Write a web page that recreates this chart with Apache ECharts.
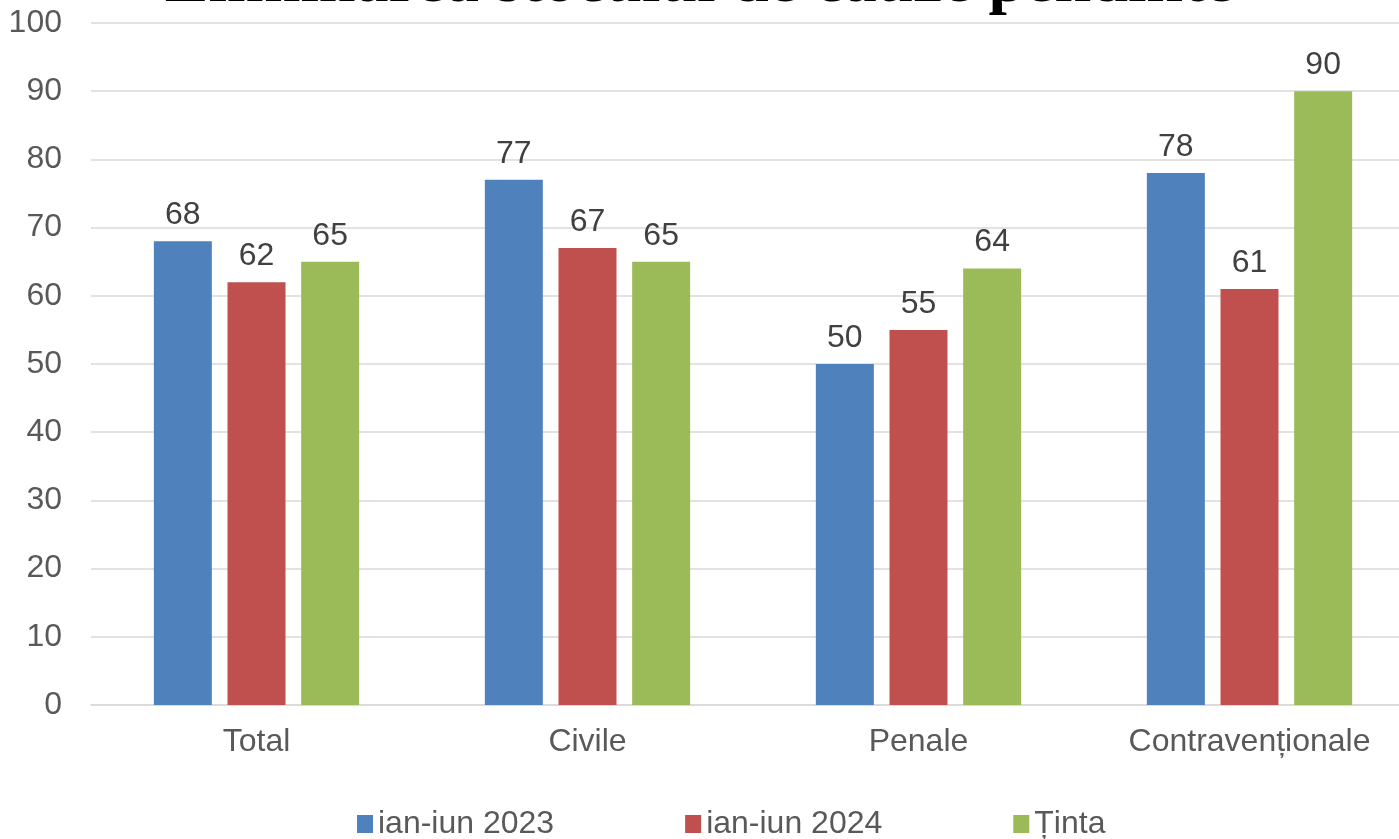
<!DOCTYPE html>
<html>
<head>
<meta charset="utf-8">
<script src="https://cdn.jsdelivr.net/npm/echarts@6/dist/echarts.min.js"></script>
<style>
  html, body { margin: 0; padding: 0; background: #fff; }
  #chart { width: 1399px; height: 839px; }
</style>
</head>
<body>
<div id="chart"></div>
<script>
// Données du graphique
const categories = ['Total', 'Civile', 'Penale', 'Contravenționale'];
const seriesNames = ['ian-iun 2023', 'ian-iun 2024', 'Ținta'];
const valori2023 = [68, 77, 50, 78];
const valori2024 = [62, 67, 55, 61];
const valoriTinta = [65, 65, 64, 90];
const culori = ['#4F81BD', '#C0504D', '#9BBB59'];

const police = 'Liberation Sans, Arial';

function serie(name, data, color) {
    return {
        name: name,
        type: 'bar',
        data: data,
        barWidth: 58,
        barGap: '27%',
        itemStyle: { color: color },
        label: {
            show: true,
            position: 'top',
            distance: 10,
            color: '#404040',
            fontFamily: police,
            fontSize: 32
        }
    };
}

const chart = echarts.init(document.getElementById('chart'));
chart.setOption({
    animation: false,
    title: {
        text: 'Eliminarea stocului de cauze pendinte',
        left: 'center',
        top: -54,
        textStyle: {
            fontFamily: 'Liberation Serif, Times New Roman',
            fontWeight: 'bold',
            fontSize: 66,
            color: '#000'
        }
    },
    legend: {
        top: 803,
        left: 352,
        itemWidth: 16,
        itemHeight: 18,
        itemGap: 131,
        icon: 'rect',
        textStyle: {
            fontFamily: police,
            fontSize: 32,
            color: '#595959'
        },
        data: seriesNames
    },
    // la zone de tracé dépasse à droite de l'image, comme dans l'original
    grid: { left: 91, width: 1324, top: 23, bottom: 134, outerBoundsMode: 'none' },
    xAxis: {
        type: 'category',
        data: categories,
        axisLine: { lineStyle: { color: '#D9D9D9', width: 1.5 } },
        axisTick: { show: false },
        axisLabel: {
            margin: 21,
            fontFamily: police,
            fontSize: 32,
            color: '#595959'
        }
    },
    yAxis: {
        type: 'value',
        min: 0,
        max: 100,
        interval: 10,
        axisLine: { show: false },
        axisTick: { show: false },
        splitLine: { lineStyle: { color: '#D9D9D9', width: 1.5 } },
        axisLabel: {
            margin: 29,
            fontFamily: police,
            fontSize: 32,
            color: '#595959'
        }
    },
    series: [
        serie(seriesNames[0], valori2023, culori[0]),
        serie(seriesNames[1], valori2024, culori[1]),
        serie(seriesNames[2], valoriTinta, culori[2])
    ]
});
</script>
</body>
</html>
